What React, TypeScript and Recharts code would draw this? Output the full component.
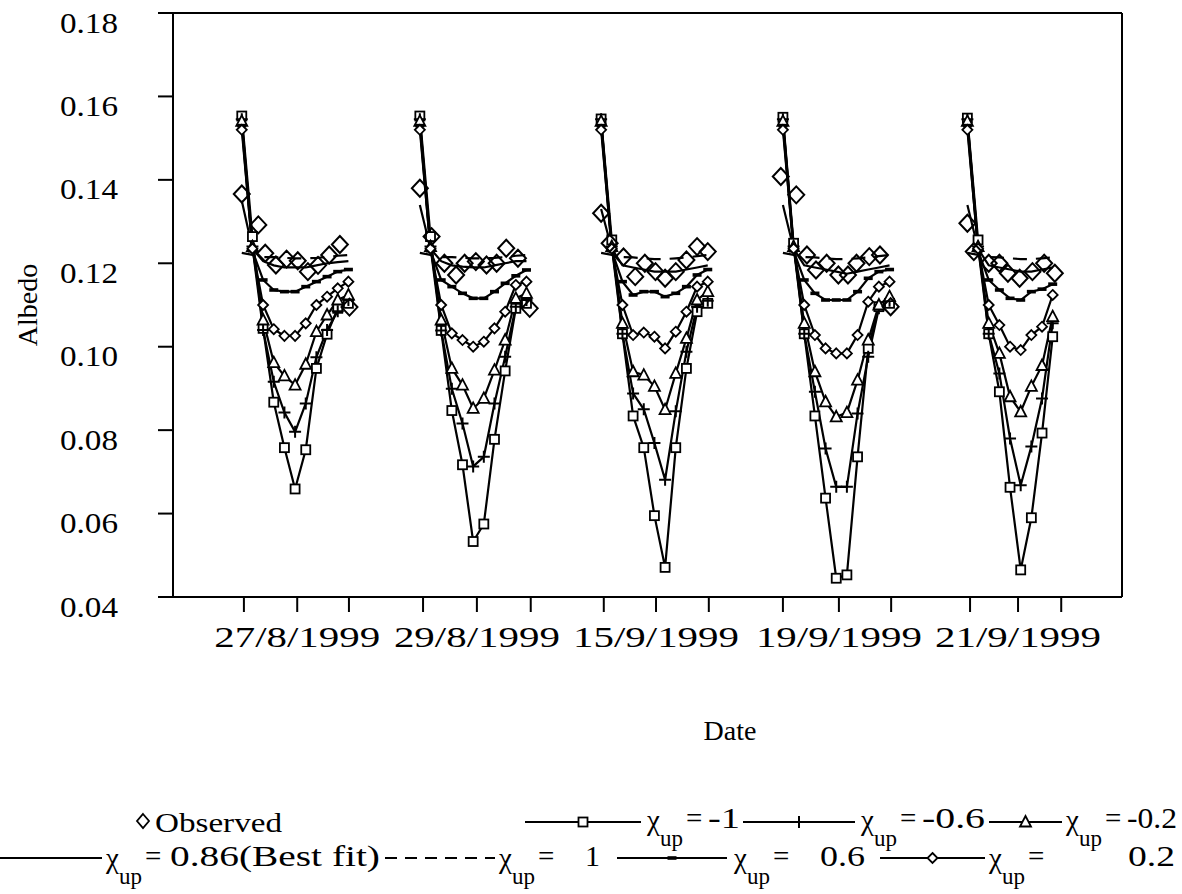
import { ComposedChart, Label, Line, ReferenceLine, XAxis, YAxis } from "recharts";

const FONT = '"Liberation Serif", "Times New Roman", serif';

const dates = ["27/8/1999", "29/8/1999", "15/9/1999", "19/9/1999", "21/9/1999"];
// x position (in sample slots) of the first model sample of each day
const dayStart = [6.45, 23.15, 40.15, 57.2, 74.5];
const xTicks = [6.65, 11.65, 16.5, 23.45, 28.5, 33.55, 40.4, 45.3, 50.25, 57.2, 62.45, 67.35, 74.75, 79.25, 83.3];
const dateTicks = [11.65, 28.5, 45.3, 62.45, 79.25];
const yTicks = [0.04, 0.06, 0.08, 0.1, 0.12, 0.14, 0.16, 0.18];

const observedSlots = [
  [0, 1.55, 2.2, 3.2, 4.2, 5.25, 6.2, 7.15, 8.2, 9.2, 10.1],
  [0, 1.1, 2.3, 3.4, 4.2, 5.25, 6.25, 7.2, 8.1, 9.2, 10.3],
  [0, 0.8, 2.1, 3.2, 4.1, 5.1, 6, 7, 8, 9, 10],
  [-0.2, 1.25, 2.25, 3.1, 4.1, 5.2, 6.1, 6.9, 8.1, 9.1, 10.1],
  [0, 0.6, 2, 3, 3.8, 4.9, 6.1, 7.2, 8.2],
];
const observed = [
  [0.1366, 0.1292, 0.1224, 0.1196, 0.121, 0.1206, 0.118, 0.1195, 0.122, 0.1245, 0.1095],
  [0.138, 0.1264, 0.12, 0.1172, 0.12, 0.1204, 0.1196, 0.12, 0.1236, 0.1212, 0.1092],
  [0.132, 0.1248, 0.1215, 0.1168, 0.12, 0.118, 0.1164, 0.118, 0.1208, 0.124, 0.1228],
  [0.1408, 0.1364, 0.122, 0.1184, 0.12, 0.1172, 0.1172, 0.12, 0.1216, 0.122, 0.1096],
  [0.1296, 0.1228, 0.12, 0.12, 0.1176, 0.1164, 0.118, 0.12, 0.1176],
];

const chiMinus1 = [
  [0.1553, 0.1264, 0.1044, 0.0867, 0.0758, 0.0659, 0.0753, 0.0948, 0.103, 0.1092, 0.1104],
  [0.1553, 0.1264, 0.1039, 0.0847, 0.0717, 0.0533, 0.0575, 0.0778, 0.0942, 0.1092, 0.1104],
  [0.1546, 0.1256, 0.1031, 0.0834, 0.0758, 0.0595, 0.0471, 0.0758, 0.0948, 0.1084, 0.1104],
  [0.155, 0.1248, 0.1031, 0.0834, 0.0637, 0.0445, 0.0453, 0.0736, 0.0996, 0.1096, 0.1104],
  [0.1548, 0.1256, 0.1031, 0.0892, 0.0663, 0.0465, 0.059, 0.0793, 0.1024],
];
const chiMinus06 = [
  [0.1545, 0.124, 0.104, 0.0916, 0.0842, 0.0796, 0.0864, 0.0975, 0.104, 0.1085, 0.1112],
  [0.1545, 0.124, 0.1039, 0.0899, 0.0816, 0.0713, 0.0736, 0.0864, 0.0976, 0.1096, 0.1112],
  [0.1545, 0.124, 0.1031, 0.0888, 0.085, 0.0769, 0.0681, 0.0845, 0.0988, 0.1096, 0.111],
  [0.1545, 0.124, 0.1031, 0.0892, 0.0756, 0.0664, 0.0664, 0.084, 0.0976, 0.1092, 0.111],
  [0.1545, 0.124, 0.1031, 0.0936, 0.078, 0.0668, 0.0761, 0.0876, 0.1056],
];
const chiMinus02 = [
  [0.154, 0.124, 0.1064, 0.0962, 0.093, 0.0908, 0.0958, 0.1036, 0.1076, 0.1112, 0.1124],
  [0.154, 0.124, 0.1064, 0.0948, 0.0908, 0.0852, 0.0876, 0.0944, 0.1016, 0.1116, 0.1128],
  [0.154, 0.124, 0.1056, 0.094, 0.0932, 0.0905, 0.0849, 0.0936, 0.102, 0.1112, 0.1132],
  [0.154, 0.124, 0.1056, 0.094, 0.0868, 0.0832, 0.0842, 0.092, 0.1016, 0.11, 0.112],
  [0.154, 0.124, 0.1056, 0.0984, 0.088, 0.0844, 0.0905, 0.0955, 0.1072],
];
const chiBest = [
  [0.135, 0.1235, 0.1205, 0.1195, 0.119, 0.119, 0.119, 0.1195, 0.12, 0.1203, 0.1205],
  [0.134, 0.1235, 0.1205, 0.1195, 0.1192, 0.119, 0.119, 0.1195, 0.12, 0.1205, 0.1205],
  [0.133, 0.1235, 0.1195, 0.119, 0.1185, 0.118, 0.118, 0.118, 0.1185, 0.119, 0.1195],
  [0.134, 0.1235, 0.1195, 0.119, 0.1185, 0.118, 0.1175, 0.118, 0.1185, 0.119, 0.1195],
  [0.134, 0.1235, 0.1195, 0.119, 0.1185, 0.118, 0.118, 0.1185, 0.119],
];
const chiPlus1 = [
  [0.1225, 0.122, 0.1215, 0.1215, 0.1213, 0.1212, 0.1212, 0.1213, 0.1215, 0.1218, 0.122],
  [0.1225, 0.122, 0.1215, 0.1215, 0.1213, 0.1212, 0.1212, 0.1213, 0.1215, 0.1218, 0.122],
  [0.1225, 0.122, 0.1215, 0.1214, 0.1212, 0.121, 0.121, 0.1212, 0.1214, 0.1217, 0.122],
  [0.1225, 0.122, 0.1215, 0.1214, 0.1212, 0.121, 0.121, 0.1212, 0.1214, 0.1217, 0.122],
  [0.1225, 0.122, 0.1215, 0.1214, 0.1212, 0.121, 0.121, 0.1212, 0.1214],
];
const chiPlus06 = [
  [0.153, 0.123, 0.116, 0.1136, 0.1132, 0.1132, 0.1144, 0.1156, 0.1168, 0.118, 0.1185],
  [0.153, 0.123, 0.116, 0.1144, 0.1128, 0.1116, 0.1116, 0.1132, 0.1152, 0.117, 0.1184],
  [0.153, 0.123, 0.1156, 0.1124, 0.1132, 0.1132, 0.112, 0.1128, 0.1144, 0.1172, 0.1185],
  [0.153, 0.123, 0.116, 0.1128, 0.1112, 0.1112, 0.1112, 0.1132, 0.1164, 0.118, 0.1185],
  [0.153, 0.123, 0.116, 0.1136, 0.1116, 0.1112, 0.1132, 0.1138, 0.115],
];
const chiPlus02 = [
  [0.152, 0.1235, 0.11, 0.1042, 0.1026, 0.1026, 0.1056, 0.11, 0.112, 0.114, 0.1156],
  [0.152, 0.1235, 0.11, 0.1032, 0.1016, 0.1, 0.1012, 0.1044, 0.1084, 0.1148, 0.1156],
  [0.152, 0.1235, 0.11, 0.1028, 0.1034, 0.1024, 0.0996, 0.1036, 0.1084, 0.1144, 0.1156],
  [0.152, 0.1235, 0.11, 0.1028, 0.0996, 0.0984, 0.0984, 0.1028, 0.1108, 0.1144, 0.1156],
  [0.152, 0.1235, 0.11, 0.1052, 0.1, 0.0992, 0.1028, 0.1048, 0.1124],
];

// one row per sample, with a null row after each day so the line breaks
const toRows = (days: number[][], slots?: number[][]) =>
  days.flatMap((vals, d) => [
    ...vals.map((v, i) => ({ x: dayStart[d] + (slots ? slots[d][i] : i), y: v as number | null })),
    { x: dayStart[d] + vals.length + 1, y: null },
  ]);

type Draw = (cx: number, cy: number) => JSX.Element;

const square: Draw = (cx, cy) => (
  <rect x={cx - 4.5} y={cy - 4.5} width={9} height={9} fill="#fff" stroke="#000" strokeWidth={1.8} />
);
const plus: Draw = (cx, cy) => (
  <path d={`M${cx - 6},${cy}H${cx + 6}M${cx},${cy - 6}V${cy + 6}`} stroke="#000" strokeWidth={2} />
);
const triangle: Draw = (cx, cy) => (
  <path d={`M${cx},${cy - 6}L${cx + 5.5},${cy + 4.5}L${cx - 5.5},${cy + 4.5}Z`} fill="#fff" stroke="#000" strokeWidth={1.8} />
);
const smallDiamond: Draw = (cx, cy) => (
  <path d={`M${cx},${cy - 5}L${cx + 5},${cy}L${cx},${cy + 5}L${cx - 5},${cy}Z`} fill="#fff" stroke="#000" strokeWidth={1.8} />
);
const dash: Draw = (cx, cy) => <rect x={cx - 4.5} y={cy - 1.8} width={9} height={3.6} fill="#000" />;
const bigDiamond: Draw = (cx, cy) => (
  <path d={`M${cx},${cy - 8.5}L${cx + 8},${cy}L${cx},${cy + 8.5}L${cx - 8},${cy}Z`} fill="none" stroke="#000" strokeWidth={2} />
);

const dotOf = (draw: Draw) => (p: any) => {
  const key = `dot-${p.index}`;
  if (p.cx == null || p.cy == null || p.value == null) return <g key={key} />;
  return <g key={key}>{draw(p.cx, p.cy)}</g>;
};

const series = [
  { name: "chi-1", rows: toRows(chiMinus1), marker: square },
  { name: "chi-0.6", rows: toRows(chiMinus06), marker: plus },
  { name: "chi-0.2", rows: toRows(chiMinus02), marker: triangle },
  { name: "chi0.86", rows: toRows(chiBest), marker: null },
  { name: "chi1", rows: toRows(chiPlus1), marker: null, dashed: true },
  { name: "chi0.6", rows: toRows(chiPlus06), marker: dash },
  { name: "chi0.2", rows: toRows(chiPlus02), marker: smallDiamond },
];

const DateTick = ({ x, y, payload }: any) => {
  const i = dateTicks.indexOf(payload.value);
  if (i < 0) return <g />;
  return (
    <text x={x - 83} y={y + 35} textLength={166} lengthAdjust="spacingAndGlyphs" fontFamily={FONT} fontSize={29} fill="#000">
      {dates[i]}
    </text>
  );
};

const AlbedoTick = ({ x, y, payload }: any) => (
  <text x={x - 58} y={y + 19.5} textLength={58} lengthAdjust="spacingAndGlyphs" fontFamily={FONT} fontSize={29} fill="#000">
    {Number(payload.value).toFixed(2)}
  </text>
);

// legend caption: chi with "up" subscript, "=" and the value
const Chi = ({ x, y, eqX, value, valueX, valueEnd }: { x: number; y: number; eqX: number; value: string; valueX: number; valueEnd: number }) => (
  <g fontFamily={FONT} fill="#000">
    <text x={x} y={y} fontSize={29}>
      χ
      <tspan dy={16} fontSize={23}>
        up
      </tspan>
    </text>
    <text x={eqX} y={y - 2} fontSize={29}>
      =
    </text>
    <text x={valueX} y={y - 2} fontSize={29} textLength={valueEnd - valueX} lengthAdjust="spacingAndGlyphs">
      {value}
    </text>
  </g>
);

const Sample = ({ x1, x2, y, marker, dashed }: { x1: number; x2: number; y: number; marker?: Draw | null; dashed?: boolean }) => (
  <g>
    <line x1={x1} x2={x2} y1={y} y2={y} stroke="#000" strokeWidth={2.2} strokeDasharray={dashed ? "12 8" : undefined} />
    {marker ? marker((x1 + x2) / 2, y) : null}
  </g>
);

export default function App() {
  return (
    <div style={{ position: "absolute", left: 0, top: 0, width: 1182, height: 894, background: "#fff" }}>
      <ComposedChart width={1182} height={894} margin={{ top: 13, right: 60, bottom: 237, left: 73 }}>
        <XAxis
          type="number"
          dataKey="x"
          domain={[0, 89]}
          ticks={xTicks}
          interval={0}
          allowDataOverflow
          height={60}
          tickSize={15}
          tickMargin={0}
          tick={DateTick}
          tickLine={{ stroke: "#000", strokeWidth: 2 }}
          axisLine={{ stroke: "#000", strokeWidth: 2 }}
        >
          <Label
            content={({ viewBox }: any) => {
              const vb = viewBox ?? { x: 173, y: 597 };
              return (
                <text x={vb.x + 557} y={vb.y + 143} textAnchor="middle" fontFamily={FONT} fontSize={28} fill="#000">
                  Date
                </text>
              );
            }}
          />
        </XAxis>
        <YAxis
          type="number"
          domain={[0.04, 0.18]}
          ticks={yTicks}
          interval={0}
          width={100}
          tickSize={15}
          tickMargin={40}
          tick={AlbedoTick}
          tickLine={{ stroke: "#000", strokeWidth: 2 }}
          axisLine={{ stroke: "#000", strokeWidth: 2 }}
        >
          <Label
            content={({ viewBox }: any) => {
              const vb = viewBox ?? { x: 73, y: 13, height: 584 };
              const cx = vb.x - 46;
              const cy = vb.y + vb.height / 2;
              return (
                <text
                  transform={`translate(${cx},${cy}) rotate(-90)`}
                  textAnchor="middle"
                  dominantBaseline="central"
                  fontFamily={FONT}
                  fontSize={28}
                  fill="#000"
                >
                  Albedo
                </text>
              );
            }}
          />
        </YAxis>
        <ReferenceLine y={0.18} stroke="#000" strokeWidth={2} />
        <ReferenceLine x={89} stroke="#000" strokeWidth={2} />
        {series.map((s) => (
          <Line
            key={s.name}
            data={s.rows}
            dataKey="y"
            type="linear"
            stroke="#000"
            strokeWidth={2.2}
            strokeDasharray={s.dashed ? "14 9" : undefined}
            dot={s.marker ? dotOf(s.marker) : false}
            activeDot={false}
            connectNulls={false}
            isAnimationActive={false}
          />
        ))}
        <Line
          data={toRows(observed, observedSlots)}
          dataKey="y"
          stroke="none"
          dot={dotOf(bigDiamond)}
          activeDot={false}
          isAnimationActive={false}
        />
      </ComposedChart>
      <svg width={1182} height={104} style={{ position: "absolute", left: 0, top: 790 }}>
        <path d="M143,24L149,31L143,38L137,31Z" fill="none" stroke="#000" strokeWidth={1.8} />
        <text x={155} y={42} textLength={127} lengthAdjust="spacingAndGlyphs" fontFamily={FONT} fontSize={28} fill="#000">
          Observed
        </text>
        <Sample x1={525} x2={641} y={32} marker={square} />
        <Chi x={647} y={40} eqX={686} value="-1" valueX={708} valueEnd={740} />
        <Sample x1={743} x2={855} y={32} marker={plus} />
        <Chi x={861} y={40} eqX={900} value="-0.6" valueX={922} valueEnd={985} />
        <Sample x1={989} x2={1062} y={32} marker={triangle} />
        <Chi x={1066} y={40} eqX={1105} value="-0.2" valueX={1127} valueEnd={1177} />

        <Sample x1={0} x2={102} y={68} />
        <Chi x={106} y={78} eqX={145} value="0.86(Best fit)" valueX={170} valueEnd={380} />
        <Sample x1={385} x2={495} y={68} dashed />
        <Chi x={499} y={78} eqX={538} value="1" valueX={585} valueEnd={600} />
        <Sample x1={617} x2={727} y={68} marker={dash} />
        <Chi x={734} y={78} eqX={773} value="0.6" valueX={820} valueEnd={865} />
        <Sample x1={880} x2={985} y={68} marker={smallDiamond} />
        <Chi x={989} y={78} eqX={1028} value="0.2" valueX={1128} valueEnd={1175} />
      </svg>
    </div>
  );
}
